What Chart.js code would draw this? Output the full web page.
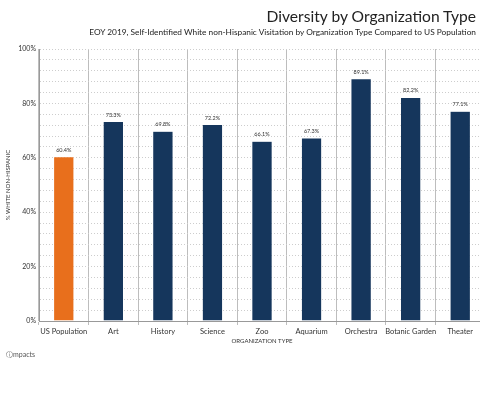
<!DOCTYPE html>
<html>
<head>
<meta charset="utf-8">
<script src="https://cdn.jsdelivr.net/npm/chart.js@4"></script>
<style>
  html, body { margin: 0; padding: 0; background: #fff; overflow: hidden; width: 480px; height: 394px; }
  #wrap { position: absolute; left: 0; top: 0; width: 490px; height: 394px; }
  .title { position: absolute; right: 4px; top: 7px; font: 400 15.6px 'Lato', 'Noto Sans', sans-serif; color: #222; white-space: nowrap; }
  .sub { position: absolute; right: 4px; top: 27px; font: 400 8.3px 'Lato', 'Noto Sans', sans-serif; color: #222; white-space: nowrap; }
  .logo { position: absolute; left: 6px; top: 350px; font: 400 7px 'Lato', 'Noto Sans', sans-serif; color: #555; }
</style>
</head>
<body>
<div id="wrap"><canvas id="chart"></canvas></div>
<div class="title">Diversity by Organization Type</div>
<div class="sub">EOY 2019, Self-Identified White non-Hispanic Visitation by Organization Type Compared to US Population</div>
<div class="logo">ⓘmpacts</div>
<script>
const categories = ['US Population', 'Art', 'History', 'Science', 'Zoo', 'Aquarium', 'Orchestra', 'Botanic Garden', 'Theater'];
const values = [60.4, 73.3, 69.8, 72.2, 66.1, 67.3, 89.1, 82.2, 77.1];
const barColors = ['#e86f1c', '#15365c', '#15365c', '#15365c', '#15365c', '#15365c', '#15365c', '#15365c', '#15365c'];

const FONT = "'Lato', 'Noto Sans', sans-serif";

// value labels above each bar
const barLabels = {
  id: 'barLabels',
  afterDatasetsDraw(chart) {
    const ctx = chart.ctx;
    const meta = chart.getDatasetMeta(0);
    ctx.save();
    ctx.font = '5.5px ' + FONT;
    ctx.fillStyle = '#333';
    ctx.textAlign = 'center';
    ctx.textBaseline = 'bottom';
    meta.data.forEach((bar, i) => {
      ctx.fillText(values[i].toFixed(1) + '%', bar.x, bar.y - 4);
    });
    ctx.restore();
  }
};

new Chart(document.getElementById('chart'), {
  type: 'bar',
  data: {
    labels: categories,
    datasets: [{
      data: values,
      backgroundColor: barColors,
      borderColor: 'rgba(255,255,255,0.6)',
      borderWidth: 0.5,
      barPercentage: 0.41,
      categoryPercentage: 1
    }]
  },
  options: {
    responsive: true, maintainAspectRatio: false,
    animation: false,
    layout: { padding: { top: 49, right: 5, bottom: 45, left: 0 } },
    plugins: { legend: { display: false }, tooltip: { enabled: false } },
    scales: {
      x: {
        afterFit: (s) => { s.height = 28; },
        grid: { color: '#bdbdbd', offset: true, tickLength: 4 },
        border: { color: '#999' },
        ticks: { color: '#333', font: { family: FONT, size: 7.5 }, padding: 2, maxRotation: 0, autoSkip: false },
        title: { display: true, text: 'ORGANIZATION TYPE', color: '#333', font: { family: FONT, size: 6 }, padding: { top: 0 } }
      },
      y: {
        min: 0, max: 100,
        afterFit: (s) => { s.width = 39; },
        grid: { color: '#cdcdcd', drawTicks: false, lineWidth: 1 },
        border: { color: '#999', dash: [1, 2] },
        ticks: {
          stepSize: 4, autoSkip: false, padding: 3,
          color: '#333', font: { family: FONT, size: 7 },
          callback: (v) => (v % 20 === 0 ? v + '%' : '')
        },
        title: { display: true, text: '% WHITE NON-HISPANIC', color: '#333', font: { family: FONT, size: 6 }, padding: { bottom: 4 } }
      }
    }
  },
  plugins: [barLabels]
});
</script>
</body>
</html>
